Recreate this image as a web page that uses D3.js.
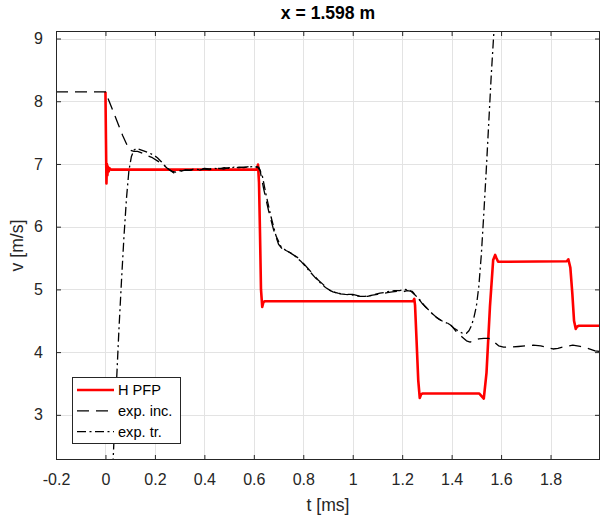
<!DOCTYPE html>
<html>
<head>
<meta charset="utf-8">
<script src="https://cdn.jsdelivr.net/npm/d3@7"></script>
<style>
  html, body { margin: 0; padding: 0; background: #fff; }
  svg { display: block; font-family: "Liberation Sans", Arial, Helvetica, sans-serif; }
</style>
</head>
<body>
<svg id="chart" width="605" height="517"></svg>
<script>
// ---- data ----
const titleText = "x = 1.598 m";
const xTicks = [-0.2, 0, 0.2, 0.4, 0.6, 0.8, 1, 1.2, 1.4, 1.6, 1.8];
const yTicks = [3, 4, 5, 6, 7, 8, 9];
const legendLabels = ["H PFP", "exp. inc.", "exp. tr."];

// H PFP simulation
const pfpT = [0, 0.002, 0.004, 0.006, 0.008, 0.010, 0.013, 0.017, 0.022,
  0.612, 0.617, 0.621, 0.625, 0.629, 0.634, 0.639, 0.645,
  1.244, 1.249, 1.252, 1.258, 1.265, 1.271, 1.277, 1.283,
  1.512, 1.521, 1.530, 1.541, 1.555, 1.568, 1.576, 1.581, 1.588,
  1.866, 1.872, 1.880, 1.888, 1.895, 1.902, 1.908, 1.915, 2.0];
const pfpV = [8.15, 7.4, 6.69, 7.0, 6.82, 6.96, 6.88, 6.93, 6.91,
  6.91, 6.99, 6.7, 5.9, 5.0, 4.72, 4.8, 4.81,
  4.81, 4.85, 4.75, 4.2, 3.55, 3.27, 3.33, 3.34,
  3.34, 3.3, 3.26, 3.67, 4.73, 5.47, 5.55, 5.5, 5.44,
  5.45, 5.48, 5.35, 4.94, 4.5, 4.37, 4.41, 4.42, 4.42];

// incident-side measurement
const incT = [-0.2, 0.003, 0.01, 0.03, 0.05, 0.07, 0.09, 0.10, 0.115, 0.13, 0.15, 0.17, 0.19, 0.21,
  0.23, 0.25, 0.265, 0.28, 0.29, 0.30, 0.32, 0.34, 0.36, 0.38, 0.40, 0.42, 0.44, 0.46, 0.48,
  0.50, 0.52, 0.54, 0.56, 0.58, 0.60, 0.615, 0.625, 0.64, 0.66, 0.68, 0.70, 0.72, 0.74, 0.76,
  0.78, 0.80, 0.82, 0.84, 0.86, 0.88, 0.90, 0.92, 0.94, 0.96, 0.98, 1.0, 1.02, 1.04, 1.06,
  1.08, 1.10, 1.12, 1.14, 1.16, 1.18, 1.20, 1.22, 1.24, 1.26, 1.28, 1.30, 1.32, 1.34, 1.36,
  1.38, 1.40, 1.42, 1.44, 1.46, 1.475, 1.49, 1.51, 1.53, 1.55, 1.57, 1.59, 1.61, 1.64, 1.67,
  1.70, 1.73, 1.76, 1.79, 1.81, 1.83, 1.86, 1.89, 1.92, 1.95, 1.98, 2.0];
const incV = [8.15, 8.15, 8.05, 7.85, 7.65, 7.45, 7.28, 7.22, 7.2, 7.2, 7.17, 7.13, 7.1, 7.05,
  7.0, 6.93, 6.89, 6.85, 6.85, 6.88, 6.9, 6.9, 6.91, 6.9, 6.92, 6.91, 6.92, 6.93, 6.92,
  6.94, 6.93, 6.95, 6.94, 6.96, 6.95, 6.95, 6.9, 6.6, 6.25, 5.95, 5.72, 5.62, 5.6, 5.55,
  5.5, 5.42, 5.33, 5.24, 5.15, 5.08, 5.0, 4.96, 4.94, 4.93, 4.92, 4.92, 4.9, 4.88, 4.89,
  4.91, 4.92, 4.93, 4.95, 4.96, 4.97, 4.96, 4.98, 4.97, 4.88, 4.78, 4.7, 4.62, 4.55, 4.5,
  4.47, 4.42, 4.32, 4.25, 4.18, 4.16, 4.19, 4.21, 4.22, 4.22, 4.17, 4.1, 4.08, 4.08, 4.09,
  4.1, 4.11, 4.1, 4.07, 4.05, 4.06, 4.09, 4.11, 4.09, 4.06, 4.02, 4.01];

// transmitted-side measurement
const trT = [0.02, 0.031, 0.045, 0.055, 0.065, 0.075, 0.085, 0.095, 0.105, 0.115, 0.125, 0.14,
  0.16, 0.18, 0.195, 0.21, 0.225, 0.24, 0.255, 0.27, 0.285, 0.30, 0.32, 0.34, 0.36, 0.38,
  0.40, 0.42, 0.44, 0.46, 0.48, 0.50, 0.52, 0.54, 0.56, 0.58, 0.60, 0.62, 0.635, 0.65, 0.67,
  0.69, 0.71, 0.73, 0.75, 0.77, 0.79, 0.81, 0.83, 0.85, 0.87, 0.89, 0.91, 0.93, 0.95, 0.97,
  1.0, 1.03, 1.05, 1.07, 1.09, 1.11, 1.13, 1.15, 1.17, 1.19, 1.21, 1.23, 1.25, 1.27, 1.29,
  1.31, 1.33, 1.35, 1.37, 1.39, 1.41, 1.43, 1.445, 1.46, 1.47, 1.48, 1.49, 1.50, 1.51, 1.52,
  1.53, 1.54, 1.55, 1.56, 1.57, 1.58];
const trV = [1.3, 2.28, 3.55, 4.4, 5.15, 5.85, 6.45, 6.9, 7.12, 7.22, 7.25, 7.23,
  7.2, 7.17, 7.14, 7.1, 7.04, 6.97, 6.92, 6.88, 6.87, 6.89, 6.91, 6.9, 6.92, 6.91,
  6.93, 6.92, 6.93, 6.92, 6.94, 6.93, 6.95, 6.94, 6.95, 6.95, 6.96, 6.95, 6.8, 6.5, 6.15,
  5.85, 5.68, 5.62, 5.58, 5.52, 5.45, 5.36, 5.27, 5.18, 5.1, 5.03, 4.98, 4.95, 4.93, 4.92,
  4.91, 4.89, 4.89, 4.9, 4.92, 4.94, 4.95, 4.97, 4.98, 4.98, 5.0, 4.99, 4.92, 4.84, 4.74,
  4.66, 4.58, 4.52, 4.48, 4.45, 4.38, 4.33, 4.3, 4.3, 4.34, 4.42, 4.55, 4.73, 5.05, 5.55,
  6.2, 6.9, 7.65, 8.4, 9.05, 9.6];

// ---- layout ----
const W = 605, H = 517;
const plot = { left: 56, right: 600, top: 31, bottom: 460 };
const axisColor = "#262626";
const gridColor = "#e3e3e3";

const svg = d3.select("#chart");
const x = d3.scaleLinear().domain([-0.2, 2.0]).range([plot.left, plot.right]);
const y = d3.scaleLinear().domain([2.28, 9.12]).range([plot.bottom, plot.top]);

svg.append("rect").attr("width", W).attr("height", H).attr("fill", "#fff");

// grid
const grid = svg.append("g").attr("stroke", gridColor).attr("stroke-width", 1);
xTicks.forEach(t => {
  grid.append("line").attr("x1", Math.round(x(t)) + 0.5).attr("x2", Math.round(x(t)) + 0.5)
    .attr("y1", plot.top).attr("y2", plot.bottom);
});
yTicks.forEach(v => {
  grid.append("line").attr("y1", Math.round(y(v)) + 0.5).attr("y2", Math.round(y(v)) + 0.5)
    .attr("x1", plot.left).attr("x2", plot.right);
});

// clip region for the curves
svg.append("defs").append("clipPath").attr("id", "plotClip")
  .append("rect").attr("x", plot.left).attr("y", plot.top)
  .attr("width", plot.right - plot.left).attr("height", plot.bottom - plot.top);

const lineGen = d3.line().x(d => x(d[0])).y(d => y(d[1]));
const zip = (a, b) => a.map((t, i) => [t, b[i]]);

const series = [
  { label: legendLabels[0], data: zip(pfpT, pfpV), color: "#ff0000", width: 2.6, dash: null },
  { label: legendLabels[1], data: zip(incT, incV), color: "#000000", width: 1.3, dash: "12,7" },
  { label: legendLabels[2], data: zip(trT, trV), color: "#000000", width: 1.3, dash: "9,3.5,2,3.5" }
];

const curves = svg.append("g").attr("clip-path", "url(#plotClip)");
series.forEach(s => {
  curves.append("path").datum(s.data).attr("d", lineGen)
    .attr("fill", "none").attr("stroke", s.color).attr("stroke-width", s.width)
    .attr("stroke-linejoin", "round")
    .attr("stroke-dasharray", s.dash);
});

// axes (ticks inward, mirrored on top and right)
const tickLen = 5;
const axBottom = d3.axisBottom(x).tickValues(xTicks).tickSizeInner(-tickLen).tickSizeOuter(0)
  .tickPadding(14).tickFormat(d => String(+d.toFixed(1)));
const axLeft = d3.axisLeft(y).tickValues(yTicks).tickSizeInner(-tickLen).tickSizeOuter(0)
  .tickPadding(13).tickFormat(d => String(d));
const axTop = d3.axisTop(x).tickValues(xTicks).tickSizeInner(-tickLen).tickSizeOuter(0).tickFormat("");
const axRight = d3.axisRight(y).tickValues(yTicks).tickSizeInner(-tickLen).tickSizeOuter(0).tickFormat("");

function styleAxis(g) {
  g.select(".domain").remove();
  g.selectAll(".tick line").attr("stroke", axisColor);
  g.selectAll(".tick text").attr("fill", axisColor).attr("font-size", 16)
    .attr("font-family", "'Liberation Sans', Arial, sans-serif");
}
svg.append("g").attr("transform", `translate(0,${plot.bottom})`).call(axBottom).call(styleAxis);
svg.append("g").attr("transform", `translate(${plot.left},0)`).call(axLeft).call(styleAxis);
svg.append("g").attr("transform", `translate(0,${plot.top})`).call(axTop).call(styleAxis);
svg.append("g").attr("transform", `translate(${plot.right},0)`).call(axRight).call(styleAxis);

// frame
svg.append("rect").attr("x", plot.left + 0.5).attr("y", plot.top + 0.5)
  .attr("width", plot.right - plot.left - 1).attr("height", plot.bottom - plot.top - 1)
  .attr("fill", "none").attr("stroke", axisColor).attr("stroke-width", 1);

// title and axis labels
svg.append("text").attr("x", (plot.left + plot.right) / 2).attr("y", 19)
  .attr("text-anchor", "middle").attr("font-size", 17.6).attr("font-weight", "bold")
  .attr("fill", "#000").text(titleText);
svg.append("text").attr("x", (plot.left + plot.right) / 2).attr("y", 511)
  .attr("text-anchor", "middle").attr("font-size", 17.6).attr("fill", axisColor).text("t [ms]");
svg.append("text").attr("transform", `translate(23,${(plot.top + plot.bottom) / 2}) rotate(-90)`)
  .attr("text-anchor", "middle").attr("font-size", 17.6).attr("fill", axisColor).text("v [m/s]");

// legend
const leg = svg.append("g").attr("transform", "translate(72,377)");
leg.append("rect").attr("x", 0.5).attr("y", 0.5).attr("width", 108).attr("height", 66)
  .attr("fill", "#fff").attr("stroke", axisColor).attr("stroke-width", 1);
series.forEach((s, i) => {
  const yy = 13 + i * 20.8;
  leg.append("line").attr("x1", 5).attr("x2", 42).attr("y1", yy).attr("y2", yy)
    .attr("stroke", s.color).attr("stroke-width", s.width).attr("stroke-dasharray", s.dash);
  leg.append("text").attr("x", 46).attr("y", yy + 5.2).attr("font-size", 14.6)
    .attr("fill", "#000").text(s.label);
});
</script>
</body>
</html>
